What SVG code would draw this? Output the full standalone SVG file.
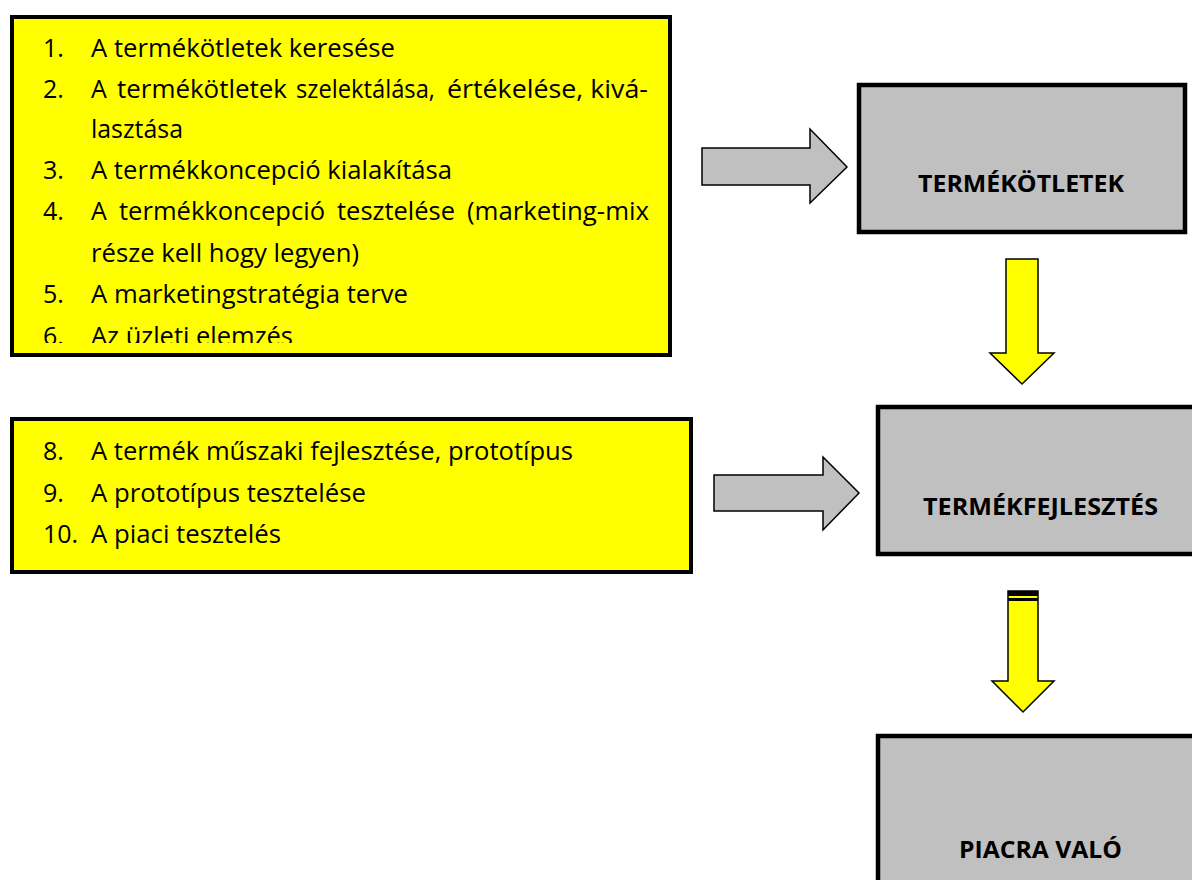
<svg xmlns="http://www.w3.org/2000/svg" width="1192" height="880" viewBox="0 0 1192 880">
<style>
.ybox{fill:#ffff00;stroke:#000;stroke-width:4}
.gbox{fill:#c0c0c0;stroke:#000;stroke-width:4.5}
.li{font-family:"Open Sans","Liberation Sans",sans-serif;font-size:25px;fill:#000}
.hd{font-family:"Open Sans","Liberation Sans",sans-serif;font-size:24px;font-weight:bold;fill:#000}
.garrow{fill:#c0c0c0;stroke:#000;stroke-width:1.5;stroke-linejoin:miter}
.yarrow{fill:#ffff00;stroke:#000;stroke-width:1.5;stroke-linejoin:miter}
</style>
<defs>
<clipPath id="clip1"><rect x="14" y="19" width="654" height="324"/></clipPath>
</defs>
<rect width="1192" height="880" fill="#fff"/>

<g id="list1">
<rect class="ybox" x="12" y="17" width="658" height="338"/>
<g clip-path="url(#clip1)">
<text class="li" x="43" y="57">1.</text>
<text class="li" x="91" y="57" textLength="304" lengthAdjust="spacingAndGlyphs">A termékötletek keresése</text>
<text class="li" x="43" y="98">2.</text>
<text class="li" y="98"><tspan x="91">A</tspan><tspan x="117" textLength="170" lengthAdjust="spacingAndGlyphs">termékötletek</tspan><tspan x="296" textLength="139" lengthAdjust="spacingAndGlyphs">szelektálása,</tspan><tspan x="447" textLength="201" lengthAdjust="spacingAndGlyphs">értékelése, kivá-</tspan></text>
<text class="li" x="91" y="138" textLength="92" lengthAdjust="spacingAndGlyphs">lasztása</text>
<text class="li" x="43" y="179">3.</text>
<text class="li" x="91" y="179" textLength="361" lengthAdjust="spacingAndGlyphs">A termékkoncepció kialakítása</text>
<text class="li" x="43" y="220">4.</text>
<text class="li" y="220"><tspan x="91">A</tspan><tspan x="119" textLength="206" lengthAdjust="spacingAndGlyphs">termékkoncepció</tspan><tspan x="337" textLength="118" lengthAdjust="spacingAndGlyphs">tesztelése</tspan><tspan x="467" textLength="182" lengthAdjust="spacingAndGlyphs">(marketing-mix</tspan></text>
<text class="li" x="91" y="262" textLength="268" lengthAdjust="spacingAndGlyphs">része kell hogy legyen)</text>
<text class="li" x="43" y="303">5.</text>
<text class="li" x="91" y="303" textLength="317" lengthAdjust="spacingAndGlyphs">A marketingstratégia terve</text>
<text class="li" x="43" y="345">6.</text>
<text class="li" x="91" y="345" textLength="202" lengthAdjust="spacingAndGlyphs">Az üzleti elemzés</text>
</g>
</g>

<g id="list2">
<rect class="ybox" x="12" y="419" width="679" height="153"/>
<text class="li" x="43" y="460">8.</text>
<text class="li" x="91" y="460" textLength="482" lengthAdjust="spacingAndGlyphs">A termék műszaki fejlesztése, prototípus</text>
<text class="li" x="43" y="502">9.</text>
<text class="li" x="91" y="502" textLength="275" lengthAdjust="spacingAndGlyphs">A prototípus tesztelése</text>
<text class="li" x="43" y="543">10.</text>
<text class="li" x="91" y="543" textLength="190" lengthAdjust="spacingAndGlyphs">A piaci tesztelés</text>
</g>

<g id="termekotletek">
<rect class="gbox" x="859" y="85" width="326" height="147"/>
<text class="hd" x="918" y="192" textLength="206" lengthAdjust="spacingAndGlyphs">TERMÉKÖTLETEK</text>
</g>

<g id="termekfejlesztes">
<rect class="gbox" x="878" y="407" width="330" height="147"/>
<text class="hd" x="923" y="515" textLength="235" lengthAdjust="spacingAndGlyphs">TERMÉKFEJLESZTÉS</text>
</g>

<g id="piacra">
<rect class="gbox" x="878" y="736" width="330" height="200"/>
<text class="hd" x="959" y="858" textLength="163" lengthAdjust="spacingAndGlyphs">PIACRA VALÓ</text>
</g>

<g id="connectors">
<polygon class="garrow" points="702,148 810,148 810,129 847,167 810,203 810,185 702,185"/>
<polygon class="garrow" points="714,475 823,475 823,457 859,493 823,530 823,511 714,511"/>
<polygon class="yarrow" points="1006,259 1038,259 1038,353 1054,353 1022,384 990,353 1006,353"/>
<polygon class="yarrow" points="1008,591 1038,591 1038,681 1054,681 1023,712 992,681 1008,681"/>
<rect x="1008" y="591" width="30" height="5" fill="#000"/>
<rect x="1008" y="598" width="30" height="3" fill="#000"/>
</g>
</svg>
